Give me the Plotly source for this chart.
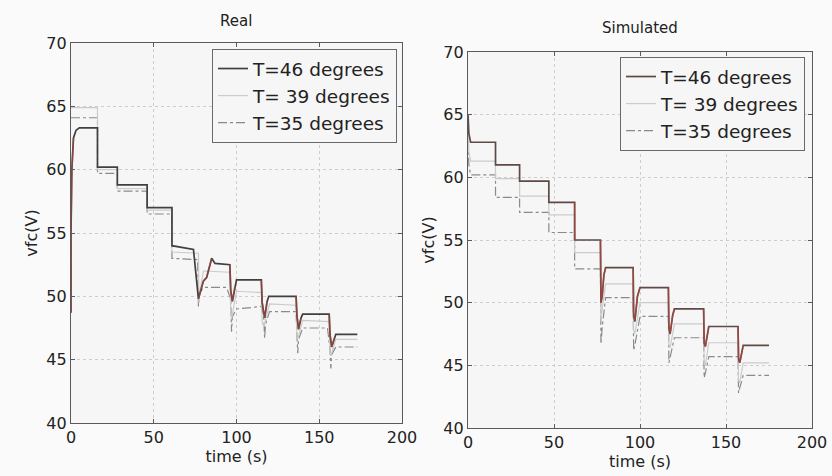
import plotly.graph_objects as go

# ---------------- data ----------------
# Real panel
real46_t = [0, 0, 0.5, 1.5, 3, 5, 16, 16, 28, 28, 46, 46, 61, 61, 74, 76.5, 77, 80, 82, 85, 87,
            96, 96.5, 97.5, 99, 100, 115, 115.5, 117, 118.5, 119.5, 136, 136.5, 137.5, 139, 140,
            156, 156.5, 157.5, 159, 160, 173]
real46_v = [48.7, 55, 60, 62.5, 63.1, 63.3, 63.3, 60.2, 60.2, 58.8, 58.8, 57.0, 57.0, 54.0, 53.7, 50.0,
            49.8, 51.2, 51.5, 53.0, 52.6, 52.5, 50.5, 49.6, 50.8, 51.3, 51.3, 49.5, 48.3, 49.6, 50.0,
            50.0, 48.5, 47.4, 48.3, 48.6, 48.6, 47.0, 46.0, 46.7, 47.0, 47.0]

real39_t = [0, 16, 16, 28, 28, 46, 46, 61, 61, 77, 77.3, 78, 80, 96, 96.5, 97, 100, 115, 115.5, 116.5,
            120, 136, 136.5, 137, 140, 156, 156.5, 157, 160, 173]
real39_v = [64.9, 64.9, 60.0, 60.0, 58.5, 58.5, 56.8, 56.8, 53.5, 53.4, 49.5, 50.5, 52.0, 51.9, 48.8,
            48.2, 50.4, 50.3, 48.0, 47.6, 49.4, 49.3, 47.0, 46.6, 48.1, 48.0, 45.6, 45.3, 46.6, 46.6]

real35_t = [0, 16, 16, 28, 28, 46, 46, 61, 61, 76.5, 77, 77.5, 80, 94, 96.5, 97, 97.5, 100, 115,
            116.5, 117, 117.5, 120, 136, 136.5, 137, 137.5, 140, 155, 156.5, 157, 157.5, 160, 173]
real35_v = [64.1, 64.1, 59.7, 59.7, 58.3, 58.3, 56.5, 56.5, 53.0, 52.9, 49.2, 50.2, 50.7, 50.7, 49.8,
            47.2, 48.4, 49.0, 49.2, 48.2, 46.7, 47.8, 48.8, 48.8, 47.0, 45.5, 46.6, 47.5, 47.5, 45.8,
            44.3, 45.4, 46.0, 46.0]

# Simulated panel
sim46_t = [0, 0.5, 1.5, 16, 16, 30, 30, 47, 47, 62, 62, 77, 77.3, 78, 79, 80, 96, 96.3, 97, 98.5, 100,
           116.5, 116.8, 117.5, 119, 120, 137, 137.3, 138, 139.5, 140, 157, 157.3, 158, 159.5, 160, 175]
sim46_v = [65.0, 63.5, 62.8, 62.8, 61.0, 61.0, 59.7, 59.7, 58.0, 58.0, 55.0, 55.0, 50.0, 50.5, 52.2,
           52.8, 52.8, 49.0, 48.5, 50.5, 51.2, 51.2, 48.0, 47.5, 49.0, 49.5, 49.5, 46.8, 46.5, 47.6,
           48.1, 48.1, 45.5, 45.2, 46.2, 46.6, 46.6]

sim39_t = [0, 0.5, 1.5, 16, 16, 30, 30, 47, 47, 62, 62, 77, 77.3, 78, 80, 96, 96.3, 97, 100, 116.5,
           116.8, 117.5, 120, 137, 137.3, 138, 140, 157, 157.3, 158, 160, 175]
sim39_v = [64.0, 62.0, 61.3, 61.3, 59.9, 59.9, 58.5, 58.5, 57.0, 57.0, 54.0, 54.0, 48.5, 49.5, 51.5,
           51.5, 47.8, 47.5, 50.0, 50.0, 46.6, 46.4, 48.3, 48.3, 45.2, 45.0, 46.8, 46.8, 43.8, 43.6,
           45.2, 45.2]

sim35_t = [0, 0.5, 1.5, 16, 16, 30, 30, 47, 47, 62, 62, 77, 77.3, 78, 80, 96, 96.3, 97, 100, 116.5,
           116.8, 117.5, 120, 137, 137.3, 138, 140, 157, 157.3, 158, 160, 175]
sim35_v = [63.0, 61.0, 60.2, 60.2, 58.4, 58.4, 57.2, 57.2, 55.6, 55.6, 52.7, 52.7, 46.7, 48.0, 50.4,
           50.4, 46.2, 46.6, 48.9, 48.9, 45.2, 45.6, 47.2, 47.2, 44.0, 44.4, 45.7, 45.7, 42.8, 43.2,
           44.2, 44.2]

# index ranges (into the T=46 series) of the reddish transient parts
real46_red = [(0, 3), (16, 19), (21, 24), (26, 29), (31, 34), (36, 39)]
sim46_red = [(9, 10), (11, 15), (16, 20), (21, 25), (26, 30), (31, 35)]

names = ["T=46 degrees", "T= 39 degrees", "T=35 degrees"]
y_ticks = [40, 45, 50, 55, 60, 65, 70]
x_ticks = [0, 50, 100, 150, 200]

# ---------------- styling ----------------
FONT = "DejaVu Sans"
TXT = "#222222"
real_styles = [dict(color="#404040", width=1.7, dash="solid"),
               dict(color="#cbcbcb", width=1.2, dash="solid"),
               dict(color="#8a8a8a", width=1.2, dash="dashdot")]
sim_styles = [dict(color="#5e4a46", width=1.7, dash="solid"),
              dict(color="#cbcbcb", width=1.2, dash="solid"),
              dict(color="#8a8a8a", width=1.2, dash="dashdot")]
RED = "#b4473d"


def pieces(t, v, ranges):
    xs, ys = [], []
    for a, b in ranges:
        xs += t[a:b + 1] + [None]
        ys += v[a:b + 1] + [None]
    return xs, ys


fig = go.Figure()
panels = [("x", "y", "legend", real_styles,
           [(real46_t, real46_v), (real39_t, real39_v), (real35_t, real35_v)], real46_red),
          ("x2", "y2", "legend2", sim_styles,
           [(sim46_t, sim46_v), (sim39_t, sim39_v), (sim35_t, sim35_v)], sim46_red)]
for xa, ya, lg, styles, series, red in panels:
    for (t, v), nm, st in reversed(list(zip(series, names, styles))):
        fig.add_trace(go.Scatter(x=t, y=v, mode="lines", name=nm, line=st,
                                 xaxis=xa, yaxis=ya, legend=lg))
    rx, ry = pieces(series[0][0], series[0][1], red)
    fig.add_trace(go.Scatter(x=rx, y=ry, mode="lines", line=dict(color=RED, width=1.6),
                             opacity=0.6, showlegend=False, hoverinfo="skip",
                             xaxis=xa, yaxis=ya, legend=lg))

W, H = 832, 476
def xd(a, b): return [a / W, b / W]
def yd(top, bot): return [1 - bot / H, 1 - top / H]

axis_common = dict(showline=True, linecolor="#5a5a5a", linewidth=1.2, mirror="ticks",
                   ticks="inside", ticklen=4, tickcolor="#5a5a5a", automargin=False,
                   showgrid=True, gridcolor="#cdcdcd", griddash="dot", gridwidth=1,
                   zeroline=False, tickfont=dict(family=FONT, size=16, color=TXT))

fig.update_layout(
    width=W, height=H, autosize=False,
    margin=dict(l=0, r=0, t=0, b=0, pad=0, autoexpand=False),
    paper_bgcolor="#fafafa", plot_bgcolor="#f6f6f6",
    font=dict(family=FONT, color=TXT),
    xaxis=dict(domain=xd(71, 402), range=[0, 200], tickvals=x_ticks, anchor="y",
               title=dict(text="time (s)", font=dict(size=16), standoff=2), **axis_common),
    yaxis=dict(domain=yd(43, 423), range=[40, 70], tickvals=y_ticks, anchor="x",
               title=dict(text="vfc(V)", font=dict(size=16), standoff=4), **axis_common),
    xaxis2=dict(domain=xd(468, 812), range=[0, 200], tickvals=x_ticks, anchor="y2",
                title=dict(text="time (s)", font=dict(size=16), standoff=2), **axis_common),
    yaxis2=dict(domain=yd(52, 428), range=[40, 70], tickvals=y_ticks, anchor="x2",
                title=dict(text="vfc(V)", font=dict(size=16), standoff=4), **axis_common),
    legend=dict(x=212 / W, y=1 - 49 / H, xanchor="left", yanchor="top",
                bgcolor="#f6f6f6", bordercolor="#6a6a6a", borderwidth=1,
                traceorder="reversed",
                font=dict(family=FONT, size=18.5, color=TXT), tracegroupgap=0),
    legend2=dict(x=620 / W, y=1 - 57 / H, xanchor="left", yanchor="top",
                 bgcolor="#f6f6f6", bordercolor="#6a6a6a", borderwidth=1,
                 traceorder="reversed",
                 font=dict(family=FONT, size=18.5, color=TXT), tracegroupgap=0),
    showlegend=True,
    annotations=[
        dict(text="Real", x=236 / W, y=1 - 21 / H, xref="paper", yref="paper",
             xanchor="center", yanchor="middle",
             showarrow=False, font=dict(family=FONT, size=15, color=TXT)),
        dict(text="Simulated", x=640 / W, y=1 - 28 / H, xref="paper", yref="paper",
             xanchor="center", yanchor="middle",
             showarrow=False, font=dict(family=FONT, size=15, color=TXT)),
    ],
)

fig.write_html("out.html", config={"responsive": False, "displayModeBar": False},
               post_script="document.body.style.margin='0';document.body.style.overflow='hidden';")
